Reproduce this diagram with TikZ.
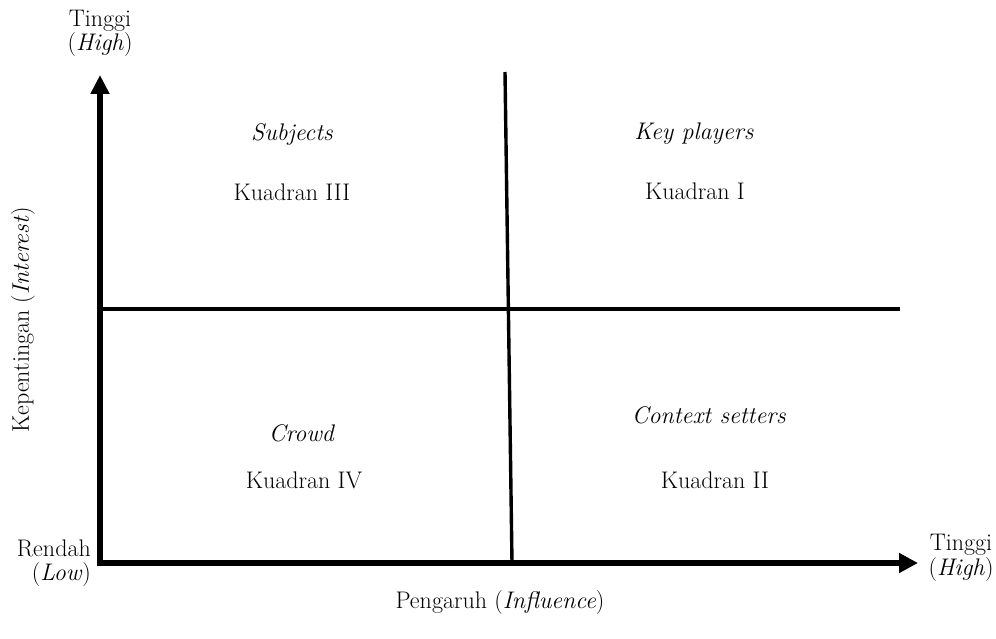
\documentclass[tikz,border=0pt]{standalone}
\usetikzlibrary{arrows.meta}
\begin{document}
\begin{tikzpicture}[x=1pt,y=-1pt,
  lbl/.style={font=\fontsize{24}{28}\selectfont, inner sep=0pt, anchor=base},
  axis/.style={line width=6pt, line join=miter, {Triangle[length=19pt,width=18pt]}-{Triangle[length=19pt,width=19pt]}},
  divider/.style={line width=3.8pt}]
\useasboundingbox (0,0) rectangle (996,639);
% coordinates
\coordinate (ytop) at (100,75);
\coordinate (O) at (100,563);
\coordinate (xend) at (918,563);
\coordinate (hl) at (100,309);
\coordinate (hr) at (900,309);
\coordinate (vt) at (505,72);
\coordinate (vb) at (512,563);
% lines
\draw[divider] (hl) -- (hr);
\draw[divider, line width=3.4pt] (vt) -- (vb);
\draw[axis] (ytop) -- (O) -- (xend);
% axis labels
\node[lbl] (yt1) at (100,27) {Tinggi};
\node[lbl] (yt2) at (100,51) {(\textit{High})};
\node[lbl] (xt1) at (961,550) {Tinggi};
\node[lbl] (xt2) at (961,575) {(\textit{High})};
\node[lbl, anchor=base east] (lo1) at (91,556) {Rendah};
\node[lbl, anchor=base east] (lo2) at (91,580) {(\textit{Low})};
\node[lbl] (xl) at (500,608) {Pengaruh (\textit{Influence})};
\node[lbl, rotate=90, anchor=center] (yl) at (23,320) {Kepentingan (\textit{Interest})};
% quadrant labels
\node[lbl] (q3a) at (292,141) {\textit{Subjects}};
\node[lbl] (q3b) at (292,201) {Kuadran III};
\node[lbl] (q1a) at (694,140) {\textit{Key players}};
\node[lbl] (q1b) at (695,200) {Kuadran I};
\node[lbl] (q4a) at (302,441) {\textit{Crowd}};
\node[lbl] (q4b) at (304,488) {Kuadran IV};
\node[lbl] (q2a) at (709,423) {\textit{Context setters}};
\node[lbl] (q2b) at (715,488) {Kuadran II};
\end{tikzpicture}
\end{document}
